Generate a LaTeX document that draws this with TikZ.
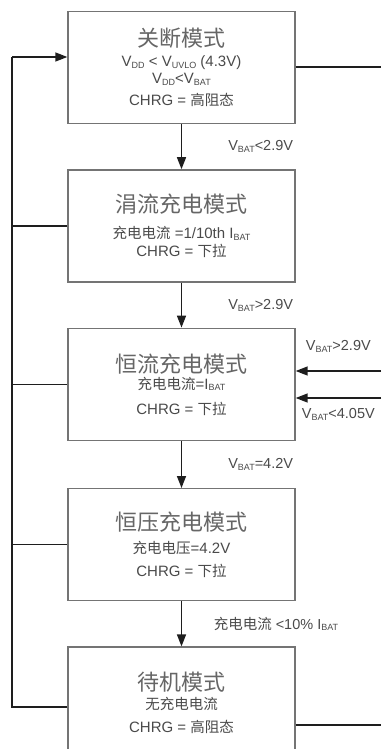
\documentclass[tikz,border=0pt]{standalone}
\usepackage{fontspec}
\setmainfont{Liberation Sans}
\newfontfamily\cjk{Noto Sans CJK SC}
\usepackage{xcolor}
\usepackage{tikz}
\usetikzlibrary{arrows.meta,positioning}
\newcommand{\sbt}[1]{\raisebox{-0.25ex}{\fontsize{9}{9}\selectfont #1}}
\newcommand{\ttl}[1]{{\cjk\color{ttlGray}\fontsize{22}{26}\selectfont #1}}
\newcommand{\zhs}[1]{{\cjk\fontsize{14.5}{17}\selectfont #1}}
\definecolor{boxGray}{HTML}{747474}
\definecolor{txtGray}{HTML}{4A4A4A}
\definecolor{ttlGray}{HTML}{666666}
\definecolor{lnDark}{HTML}{1E1E1E}

\begin{document}
\begin{tikzpicture}[x=1pt, y=-1pt, node distance=45pt,
  mode/.style={draw=boxGray, line width=1.4pt, fill=white, minimum width=227pt,
    minimum height=112pt, align=center, text=txtGray, font=\fontsize{15}{17}\selectfont},
  tr/.style={-{Triangle[length=12pt,width=9pt]}, line width=1.5pt, draw=lnDark},
  ln/.style={line width=1.5pt, draw=lnDark},
  cond/.style={text=txtGray, font=\fontsize{14.5}{17}\selectfont, inner sep=0pt}]
\useasboundingbox (0,0) rectangle (381,749);
% the five modes
\node[mode] (off) at (181.5,67.5) {\ttl{关断模式}\\[3pt] V\sbt{DD} < V\sbt{UVLO} (4.3V)\\ V\sbt{DD}<V\sbt{BAT}\\[5pt] CHRG = \zhs{高阻态}};
\node[mode, below=of off] (trk) {\ttl{涓流充电模式}\\[9pt] \zhs{充电电流} =1/10th I\sbt{BAT}\\[1pt] CHRG = \zhs{下拉}};
\node[mode, below=of trk] (cc) {\ttl{恒流充电模式}\\ \zhs{充电电流}=I\sbt{BAT}\\[8pt] CHRG = \zhs{下拉}};
\node[mode, below=47pt of cc] (cv) {\ttl{恒压充电模式}\\[6pt] \zhs{充电电压}=4.2V\\[6pt] CHRG = \zhs{下拉}};
\node[mode, below=of cv] (stby) {\ttl{待机模式}\\[2pt] \zhs{无充电电流}\\[6pt] CHRG = \zhs{高阻态}};
% main chain
\draw[tr] (off) -- node[cond, midway, right=46pt]{V\sbt{BAT}<2.9V} (trk);
\draw[tr] (trk) -- node[cond, midway, right=46pt]{V\sbt{BAT}>2.9V} (cc);
\draw[tr] (cc) -- node[cond, midway, right=46pt]{V\sbt{BAT}=4.2V} (cv);
\draw[tr] (cv) -- node[cond, midway, right=31.5pt]{\zhs{充电电流} <10\% I\sbt{BAT}} (stby);
% left return bus
\coordinate (lt) at (12,57);
\coordinate (lb) at (12,707);
\draw[ln] (lb -| stby.west) -- (lb) -- (lt);
\draw[tr] (lt) -- (lt -| off.west);
\draw[ln] (trk.west) -- (trk.west -| lt);
\draw[ln] (cc.west) -- (cc.west -| lt);
\draw[ln] (cv.west) -- (cv.west -| lt);
% right side
\coordinate (rt) at (381,67);
\coordinate (rb) at (381,725);
\coordinate (ina) at (381,371);
\coordinate (inb) at (381,398);
\draw[ln] (rt -| off.east) -- (rt);
\draw[ln] (rb -| stby.east) -- (rb);
\draw[tr] (ina) -- node[cond, midway, above=18pt]{V\sbt{BAT}>2.9V} (ina -| cc.east);
\draw[tr] (inb) -- node[cond, midway, below=10pt]{V\sbt{BAT}<4.05V} (inb -| cc.east);
\end{tikzpicture}
\end{document}
